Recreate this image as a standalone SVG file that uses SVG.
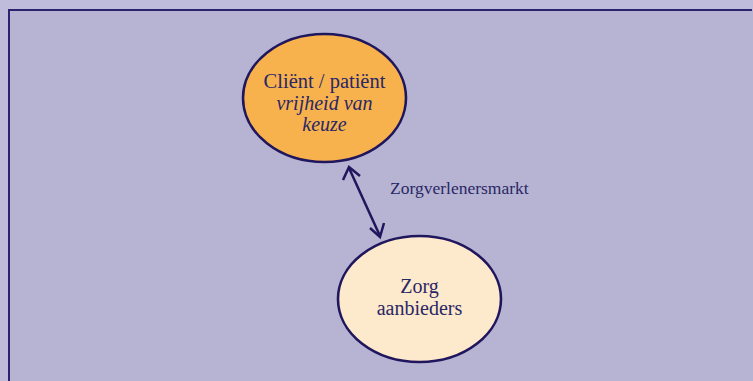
<svg xmlns="http://www.w3.org/2000/svg" width="753" height="381" viewBox="0 0 753 381">
<defs>
<style>
.t{font-family:"Liberation Serif","DejaVu Serif",serif;fill:#2a2766;text-anchor:middle}
.n{stroke:#1f165e;stroke-width:2.6}
.c{fill:none;stroke:#1f165e;stroke-width:2.5}
</style>
</defs>
<rect width="753" height="381" fill="#bebcda"/>
<rect x="9" y="10" width="744" height="371" fill="#b6b4d2"/>
<path d="M9,381 V10 H752" fill="none" stroke="#2a2470" stroke-width="2"/>
<g id="connectors">
<line class="c" x1="349" y1="168" x2="380" y2="236"/>
<path class="c" d="M343,180 L349,167 L360,176 M370,228 L380,237 L384,223"/>
<text class="t" x="390" y="194" style="text-anchor:start;font-size:17.5px">Zorgverlenersmarkt</text>
</g>
<g id="client">
<ellipse class="n" cx="324.5" cy="98" rx="81.5" ry="64" fill="#f8b24d"/>
<text class="t" x="324.5" y="88" font-size="20.5">Cliënt / patiënt</text>
<text class="t" x="324.5" y="110" font-size="20" font-style="italic">vrijheid van</text>
<text class="t" x="324.5" y="131" font-size="20" font-style="italic">keuze</text>
</g>
<g id="aanbieders">
<ellipse class="n" cx="419.5" cy="299" rx="81.5" ry="63" fill="#fde9cb"/>
<text class="t" x="419.5" y="293" font-size="20">Zorg</text>
<text class="t" x="419.5" y="315" font-size="20">aanbieders</text>
</g>
</svg>
